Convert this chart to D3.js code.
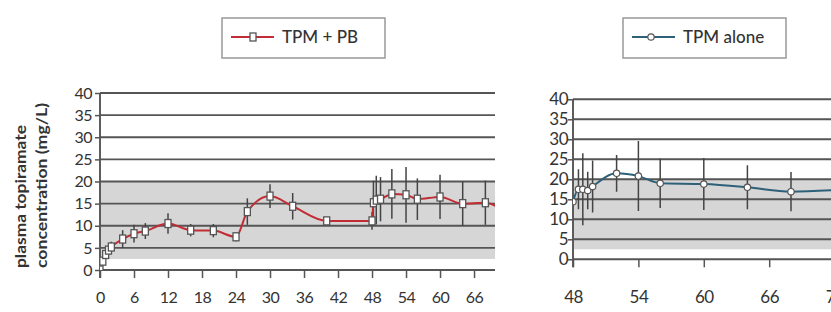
<!DOCTYPE html>
<html>
<head>
<meta charset="utf-8">
<script src="https://cdn.jsdelivr.net/npm/d3@7"></script>
<style>
body { margin: 0; background: #fff; }
text { font-family: Lato, "Open Sans", sans-serif; fill: #333; }
</style>
</head>
<body>
<div id="chart"></div>
<script>
// TPM + PB (left panel)
var pbHours = [0, 0.5, 1, 1.5, 2, 4, 6, 8, 12, 16, 20, 24, 26, 30, 34, 40, 48, 48.25, 48.75, 49.5, 51.5, 54, 56, 60, 64, 68, 72];
var pbConc  = [0, 2, 3.5, 4.5, 5.2, 7, 8.2, 8.8, 10.5, 9, 8.9, 7.5, 13.2, 16.7, 14.4, 11.1, 11.1, 15.2, 15.8, 16, 17.2, 17, 16, 16.5, 15, 15.2, 12.5];
var pbErr   = [0.3, 0.8, 1, 1, 1.2, 2, 2, 1.8, 2.3, 1.4, 1.5, 1, 3, 2.7, 3, 0.5, 2, 5, 5.5, 5, 5.6, 6.3, 4.7, 5, 5, 5, 5];

// TPM alone (right panel)
var aloneHours = [48, 48.5, 48.9, 49.35, 49.8, 52, 54, 56, 60, 64, 68, 72];
var aloneConc  = [14.4, 17.5, 17.5, 17.2, 18.2, 21.5, 20.8, 19, 18.8, 18, 16.9, 17.3];
var aloneErr   = [0.5, 5, 9, 4.7, 6.5, 4.6, 8.75, 6.2, 6.5, 5.5, 4.9, 5];

var yTicks = [0, 5, 10, 15, 20, 25, 30, 35, 40];
var pbXTicks = [0, 6, 12, 18, 24, 30, 36, 42, 48, 54, 60, 66];
var aloneXTicks = [48, 54, 60, 66, 72];
var legendNames = ["TPM + PB", "TPM alone"];
var yTitle = ["plasma topiramate", "concentration (mg/L)"];
var bandRange = [2.5, 20];

var svg = d3.select("#chart").append("svg")
    .attr("width", 831)
    .attr("height", 312);

function drawPanel(p) {
  var x = d3.scaleLinear().domain(p.xDomain).range(p.xRange);
  var y = d3.scaleLinear().domain([0, 40]).range(p.yRange);
  var g = svg.append("g");
  var left = p.xRange[0], right = p.plotRight;

  g.append("clipPath").attr("id", p.id + "clip")
    .append("rect")
    .attr("x", left).attr("y", y(40) - 10)
    .attr("width", right - left).attr("height", y(0) - y(40) + 10);

  // reference band
  g.append("rect")
    .attr("x", left).attr("width", right - left)
    .attr("y", y(bandRange[1]))
    .attr("height", y(bandRange[0]) - y(bandRange[1]))
    .attr("fill", "#d6d6d6");

  // grid lines
  g.selectAll(".grid").data(yTicks).enter().append("line")
    .attr("x1", left).attr("x2", right)
    .attr("y1", function(d) { return y(d); })
    .attr("y2", function(d) { return y(d); })
    .attr("stroke", "#555")
    .attr("stroke-width", 1.9);

  // y axis
  var ya = g.append("g").attr("transform", "translate(" + left + ",0)")
    .call(d3.axisLeft(y).tickValues(yTicks).tickSize(5).tickPadding(p.yPad));
  ya.select(".domain").remove();
  ya.selectAll(".tick line").attr("stroke", "#555").attr("stroke-width", 1.5);
  ya.selectAll("text").style("font-size", p.yFont + "px").style("letter-spacing", "-0.5px").attr("fill", "#333");
  g.append("line")
    .attr("x1", left).attr("x2", left)
    .attr("y1", y(40)).attr("y2", y(0) + 8)
    .attr("stroke", "#555").attr("stroke-width", 1.9);

  // x axis
  var xa = g.append("g").attr("transform", "translate(0," + y(0) + ")")
    .call(d3.axisBottom(x).tickValues(p.xTicks).tickSize(8).tickPadding(p.xPad));
  xa.select(".domain").remove();
  xa.selectAll(".tick line").attr("stroke", "#555").attr("stroke-width", 1.5);
  xa.selectAll("text").style("font-size", p.xFont + "px").style("letter-spacing", "-0.5px").attr("fill", "#333");

  var pts = p.hours.map(function(h, i) { return { h: h, v: p.conc[i], e: p.err[i] }; });
  var pg = g.append("g").attr("clip-path", "url(#" + p.id + "clip)");

  // error bars
  pg.selectAll(".err").data(pts).enter().append("line")
    .attr("x1", function(d) { return x(d.h); })
    .attr("x2", function(d) { return x(d.h); })
    .attr("y1", function(d) { return y(d.v - d.e); })
    .attr("y2", function(d) { return y(d.v + d.e); })
    .attr("stroke", "#444")
    .attr("stroke-width", 1.5);

  var line = d3.line()
    .x(function(d) { return x(d.h); })
    .y(function(d) { return y(d.v); })
    .curve(d3.curveMonotoneX);

  pg.append("path").datum(pts)
    .attr("d", line)
    .attr("fill", "none")
    .attr("stroke", p.color)
    .attr("stroke-width", 2);

  if (p.marker == "square") {
    pg.selectAll(".mk").data(pts).enter().append("rect")
      .attr("x", function(d) { return x(d.h) - 3; })
      .attr("y", function(d) { return y(d.v) - 4; })
      .attr("width", 6).attr("height", 8)
      .attr("fill", "#fff").attr("stroke", "#555").attr("stroke-width", 1.3);
  } else {
    pg.selectAll(".mk").data(pts).enter().append("circle")
      .attr("cx", function(d) { return x(d.h); })
      .attr("cy", function(d) { return y(d.v); })
      .attr("r", 3.2)
      .attr("fill", "#fff").attr("stroke", "#555").attr("stroke-width", 1.2);
  }

  // legend
  var lg = svg.append("g").attr("transform", "translate(" + p.legend[0] + "," + p.legend[1] + ")");
  lg.append("rect").attr("x", 0).attr("y", 0).attr("width", 163).attr("height", 40)
    .attr("fill", "#fff").attr("stroke", "#999").attr("stroke-width", 1.5);
  lg.append("line").attr("x1", 9).attr("x2", 52).attr("y1", 19).attr("y2", 19)
    .attr("stroke", p.color).attr("stroke-width", 2.2);
  if (p.marker == "square") {
    lg.append("rect").attr("x", 28).attr("y", 15).attr("width", 6).attr("height", 8)
      .attr("fill", "#fff").attr("stroke", "#555").attr("stroke-width", 1.3);
  } else {
    lg.append("circle").attr("cx", 28).attr("cy", 19).attr("r", 3.2)
      .attr("fill", "#fff").attr("stroke", "#555").attr("stroke-width", 1.2);
  }
  lg.append("text").attr("x", 60).attr("y", 25)
    .style("font-size", "17px")
    .style("font-weight", 500)
    .text(p.name);
}

drawPanel({
  id: "pb", hours: pbHours, conc: pbConc, err: pbErr,
  xDomain: [0, 69.7], xRange: [100, 495], plotRight: 495,
  yRange: [270, 93], xTicks: pbXTicks,
  yFont: 16, xFont: 16, yPad: 3, xPad: 14,
  color: "#c22d35", marker: "square",
  legend: [222, 18], name: legendNames[0]
});

drawPanel({
  id: "alone", hours: aloneHours, conc: aloneConc, err: aloneErr,
  xDomain: [48, 74], xRange: [573, 856.4], plotRight: 831,
  yRange: [259.3, 99.3], xTicks: aloneXTicks,
  yFont: 17, xFont: 17, yPad: 0, xPad: 24,
  color: "#2d6079", marker: "circle",
  legend: [623, 18], name: legendNames[1]
});

// y axis title
var title = svg.append("g").style("font-weight", "bold").style("font-size", "16px");
title.append("text")
  .attr("transform", "translate(26,268) rotate(-90)")
  .attr("textLength", 143)
  .attr("lengthAdjust", "spacingAndGlyphs")
  .text(yTitle[0]);
title.append("text")
  .attr("transform", "translate(47,268) rotate(-90)")
  .attr("textLength", 165)
  .attr("lengthAdjust", "spacingAndGlyphs")
  .text(yTitle[1]);
</script>
</body>
</html>
